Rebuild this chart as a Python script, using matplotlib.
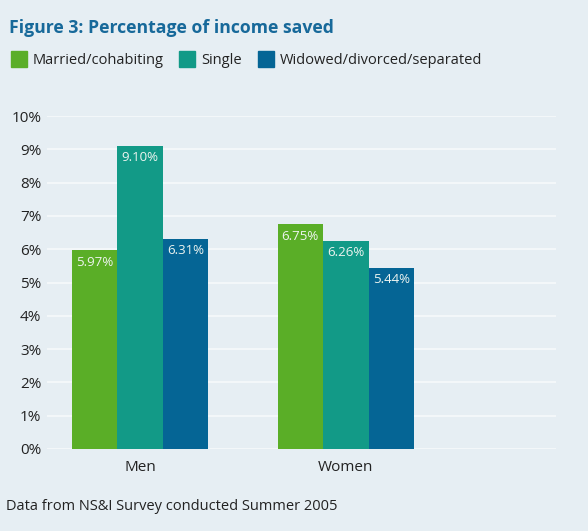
import matplotlib
matplotlib.use("Agg")
import matplotlib.pyplot as plt
from matplotlib.patches import Rectangle
from matplotlib.ticker import FuncFormatter
import numpy as np

plt.rcParams['font.family'] = ['Open Sans', 'DejaVu Sans']

categories = ["Men", "Women"]
series_names = ["Married/cohabiting", "Single", "Widowed/divorced/separated"]
married = [5.97, 6.75]
single = [9.10, 6.26]
widowed = [6.31, 5.44]
colors = ["#5aae27", "#129a87", "#056595"]
yticks = [0, 1, 2, 3, 4, 5, 6, 7, 8, 9, 10]

bg = "#e6eef3"
W, H = 588, 531
fig = plt.figure(figsize=(W / 100, H / 100), dpi=100, facecolor=bg)
ax = fig.add_axes([47 / W, 1 - 449 / H, (556 - 47) / W, (449 - 116) / H])
ax.set_facecolor(bg)

x = np.arange(len(categories))
w = 0.221
for i, (vals, c) in enumerate(zip([married, single, widowed], colors)):
    xs = x + (i - 1) * w
    ax.bar(xs, vals, width=w, color=c, zorder=3, linewidth=0)
    for xi, v in zip(xs, vals):
        ax.text(xi, v - 0.16, f"{v:.2f}%", ha="center", va="top",
                color="#eef4f0", fontsize=9.5, zorder=4)

ax.set_xlim(-0.451, 2.02)
ax.set_ylim(0, 10)
ax.set_yticks(yticks)
ax.yaxis.set_major_formatter(FuncFormatter(lambda v, p: f"{v:.0f}%"))
ax.grid(axis="y", color="#f8fbfc", linewidth=1.1, zorder=1)
ax.set_axisbelow(True)
for s in ax.spines.values():
    s.set_visible(False)
ax.tick_params(axis="both", length=0, labelsize=11, colors="#222222")
ax.tick_params(axis="y", pad=4)
ax.tick_params(axis="x", pad=8)
ax.set_xticks(x)
ax.set_xticklabels(categories)

fig.text(9 / W, 1 - 28 / H, "Figure 3: Percentage of income saved",
         fontsize=12.7, fontweight="bold", color="#17699a", va="center", ha="left")

# legend row
lx = [11, 179, 258]
for xs0, name, c in zip(lx, series_names, colors):
    fig.patches.append(Rectangle((xs0 / W, 1 - 67 / H), 16 / W, 16 / H,
                                 transform=fig.transFigure, color=c))
    fig.text((xs0 + 22) / W, 1 - 60 / H, name, fontsize=10.5,
             color="#222222", va="center", ha="left")

fig.text(6 / W, 1 - 507 / H, "Data from NS&I Survey conducted Summer 2005",
         fontsize=10.5, color="#222222", va="center", ha="left")

fig.savefig("out.png", dpi=100, facecolor=bg)
